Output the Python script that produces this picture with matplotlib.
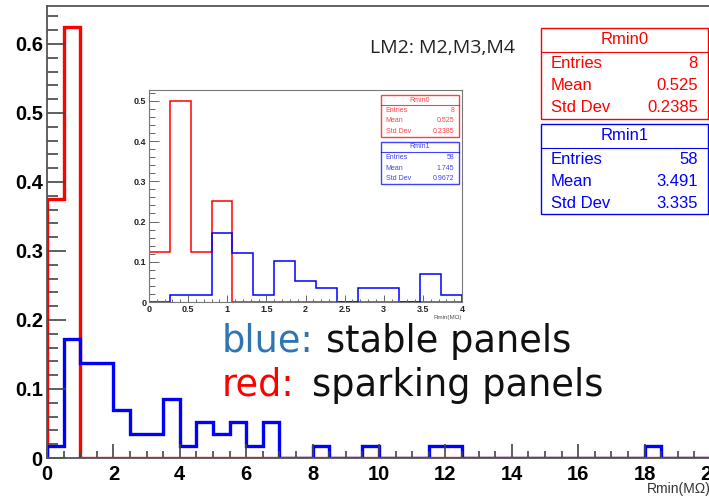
import numpy as np
import matplotlib.pyplot as plt
from matplotlib.patches import Rectangle
from matplotlib.ticker import MultipleLocator

#==============================================================================
# data (bin counts, normalised by entries)
main_edges = np.arange(0, 20.5, 0.5)
red_main = [3, 5] + [0]*38            # Rmin0, 8 entries
blue_main = [1, 10, 8, 8, 4, 2, 2, 5, 1, 3, 2, 3, 1, 3, 0, 0, 1, 0, 0, 1,
             0, 0, 0, 1, 1, 0, 0, 0, 0, 0, 0, 0, 0, 0, 0, 0, 1, 0, 0, 0]  # Rmin1, 58
red_entries = 8
blue_entries = 58

inset_edges = np.linspace(0, 4, 16)
red_inset = [0.125, 0.5, 0.125, 0.25, 0, 0, 0, 0, 0, 0, 0, 0, 0, 0, 0]
blue_inset = [0, 0.017, 0.017, 0.172, 0.121, 0.017, 0.103, 0.052, 0.034,
              0, 0.034, 0.034, 0, 0.069, 0.017]

stats_main = [('Rmin0', '8', '0.525', '0.2385'), ('Rmin1', '58', '3.491', '3.335')]
stats_inset = [('Rmin0', '8', '0.525', '0.2385'), ('Rmin1', '58', '1.745', '0.9672')]

RED = '#ff0000'
BLUE = '#0000ff'
W, H = 709, 500

def px(x, y):
  """ pixel coords (from top-left) -> figure fraction """
  return x/W, 1 - y/H

def statBox(fig, x0, x1, y0, y1, ydiv, rows, name, color, fs, alpha=1.0):
  fig.patches.append(Rectangle(px(x0, y1), (x1-x0)/W, (y1-y0)/H, transform=fig.transFigure,
                               fill=True, facecolor='white', edgecolor=color, lw=1.0,
                               alpha=alpha, zorder=5))
  fig.lines.append(plt.Line2D([x0/W, x1/W], [1-ydiv/H]*2, transform=fig.transFigure,
                              color=color, lw=0.8, alpha=alpha, zorder=6))
  fig.text(*px((x0+x1)/2, (y0+ydiv)/2), name, color=color, fontsize=fs, ha='center',
           va='center', alpha=alpha, zorder=7)
  h = (y1 - ydiv)/3.0
  for i, (lab, val) in enumerate(zip(['Entries', 'Mean', 'Std Dev'], rows)):
    yy = ydiv + h*(i+0.5)
    pad = (x1-x0)*0.06
    fig.text(*px(x0+pad, yy), lab, color=color, fontsize=fs, ha='left', va='center',
             alpha=alpha, zorder=7)
    fig.text(*px(x1-pad, yy), val, color=color, fontsize=fs, ha='right', va='center',
             alpha=alpha, zorder=7)

#############################################################################
plt.rcParams['font.family'] = ['Liberation Sans', 'DejaVu Sans']
fig = plt.figure(figsize=(W/100, H/100), dpi=100)

# main histogram
ax = fig.add_axes([47/W, 42/H, (711-47)/W, (458-6)/H])
ax.stairs(np.array(red_main)/red_entries, main_edges, color=RED, lw=2.4, baseline=0)
ax.stairs(np.array(blue_main)/blue_entries, main_edges, color=BLUE, lw=2.4, baseline=0)
ax.set_xlim(0, 20)
ax.set_ylim(0, 0.655)
ax.xaxis.set_minor_locator(MultipleLocator(0.5))
ax.yaxis.set_minor_locator(MultipleLocator(0.02))
ax.tick_params(which='both', direction='in', colors='#444444', width=1.2,
               top=False, right=False, labelcolor='black')
ax.tick_params(axis='y', which='major', length=14)
ax.tick_params(axis='y', which='minor', length=8)
ax.tick_params(axis='x', which='major', length=10)
ax.tick_params(axis='x', which='minor', length=5)
ax.tick_params(axis='y', labelsize=14.5, pad=3)
ax.tick_params(axis='x', labelsize=14.5, pad=5)
ax.set_yticks(np.arange(0, 0.65, 0.1))
ax.set_yticklabels(['0', '0.1', '0.2', '0.3', '0.4', '0.5', '0.6'], fontweight='bold')
ax.set_xticks(np.arange(0, 21, 2))
ax.set_xticklabels([str(v) for v in range(0, 21, 2)], fontweight='bold')
for sp in ax.spines.values():
  sp.set_color('#555555')
  sp.set_linewidth(1.3)
fig.text(*px(711, 489), 'Rmin(M\u03a9)', fontsize=10, ha='right', va='center', color='#333333')

# inset
axi = fig.add_axes([149/W, (H-302)/H, (462-149)/W, (302-90)/H])
axi.stairs(red_inset, inset_edges, color=RED, lw=1.1, baseline=0)
axi.stairs(blue_inset, inset_edges, color=BLUE, lw=1.1, baseline=0)
axi.set_xlim(0, 4)
axi.set_ylim(0, 0.527)
axi.xaxis.set_minor_locator(MultipleLocator(0.1))
axi.yaxis.set_minor_locator(MultipleLocator(0.02))
axi.tick_params(which='both', direction='in', colors='#666666', width=0.7,
                top=False, right=False, labelcolor='#222222', labelsize=6.5, pad=2)
axi.tick_params(axis='y', which='major', length=7)
axi.tick_params(axis='y', which='minor', length=4)
axi.tick_params(axis='x', which='major', length=5)
axi.tick_params(axis='x', which='minor', length=2.5)
axi.set_xticks(np.arange(0, 4.1, 0.5))
axi.set_xticklabels(['0', '0.5', '1', '1.5', '2', '2.5', '3', '3.5', '4'], fontweight='bold')
axi.set_yticks(np.arange(0, 0.51, 0.1))
axi.set_yticklabels(['0', '0.1', '0.2', '0.3', '0.4', '0.5'], fontweight='bold')
for sp in axi.spines.values():
  sp.set_color('#777777')
  sp.set_linewidth(0.8)
fig.text(*px(462, 317), 'Rmin(M\u03a9)', fontsize=4.5, ha='right', va='center', color='#555555')

# stat boxes
statBox(fig, 541, 708, 28, 119, 52, stats_main[0][1:], stats_main[0][0], RED, 12)
statBox(fig, 541, 708, 124, 214, 148, stats_main[1][1:], stats_main[1][0], BLUE, 12)
statBox(fig, 381, 459, 95, 137, 105, stats_inset[0][1:], stats_inset[0][0], RED, 5, 0.75)
statBox(fig, 381, 459, 142, 184, 152, stats_inset[1][1:], stats_inset[1][0], BLUE, 5, 0.75)

# annotations
fig.text(*px(443, 48), 'LM2: M2,M3,M4', fontsize=14, family='Open Sans', ha='center',
         va='center', color='#222222')
big = dict(fontsize=26.5, family='DejaVu Sans', ha='left', va='baseline')
fig.text(*px(222, 352), 'blue:', color='#2e75b6', **big)
fig.text(*px(326, 352), 'stable panels', color='#111111', **big)
fig.text(*px(222, 396), 'red:', color=RED, **big)
fig.text(*px(312, 396), 'sparking panels', color='#111111', **big)

fig.savefig('out.png', dpi=100)
